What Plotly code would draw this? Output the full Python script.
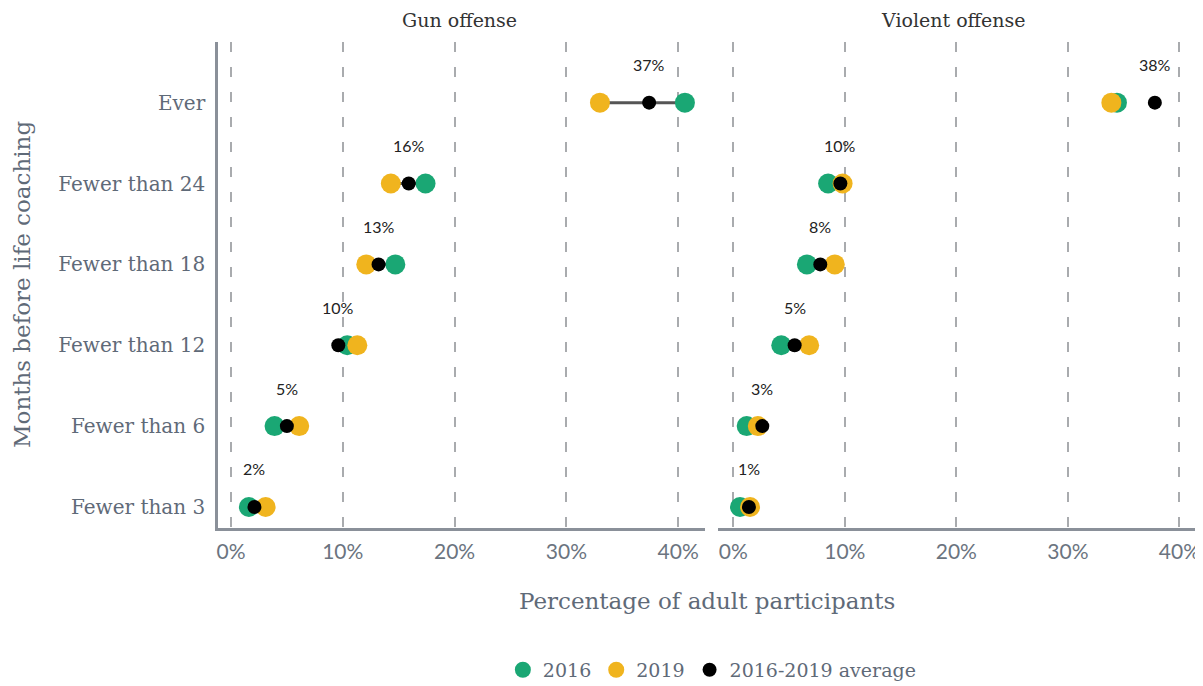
import plotly.graph_objects as go
from plotly.subplots import make_subplots

# categories, bottom to top
months = ["Fewer than 3", "Fewer than 6", "Fewer than 12", "Fewer than 18", "Fewer than 24", "Ever"]

# gun offense (% of adult participants)
gun_2016 = [1.6, 3.9, 10.4, 14.7, 17.4, 40.6]
gun_2019 = [3.1, 6.1, 11.3, 12.1, 14.3, 33.0]
gun_avg = [2.1, 5.0, 9.6, 13.2, 15.9, 37.4]
gun_labels = ["2%", "5%", "10%", "13%", "16%", "37%"]

# violent offense
vio_2016 = [0.6, 1.2, 4.3, 6.6, 8.5, 34.4]
vio_2019 = [1.5, 2.2, 6.8, 9.1, 9.8, 33.9]
vio_avg = [1.4, 2.6, 5.5, 7.8, 9.6, 37.8]
vio_labels = ["1%", "3%", "5%", "8%", "10%", "38%"]

GREEN = "#1aa774"
YELLOW = "#f0b41e"
BLACK = "#000000"
GREY = "#5f6a78"
SERIF = "DejaVu Serif"
SANS = "Lato"

fig = make_subplots(rows=1, cols=2, shared_yaxes=True, horizontal_spacing=0.013,
                    subplot_titles=["Gun offense", "Violent offense"])

panels = [(gun_2016, gun_2019, gun_avg, gun_labels), (vio_2016, vio_2019, vio_avg, vio_labels)]

for col, (a, b, avg, labels) in enumerate(panels, start=1):
    # connector between 2016 and 2019
    lx, ly = [], []
    for i, m in enumerate(months):
        lx += [a[i], b[i], None]
        ly += [m, m, None]
    fig.add_trace(go.Scatter(x=lx, y=ly, mode="lines", line=dict(color="#555555", width=3),
                             showlegend=False, hoverinfo="skip"), row=1, col=col)
    fig.add_trace(go.Scatter(x=a, y=months, mode="markers", name="2016",
                             marker=dict(color=GREEN, size=20), showlegend=(col == 1)), row=1, col=col)
    fig.add_trace(go.Scatter(x=b, y=months, mode="markers", name="2019",
                             marker=dict(color=YELLOW, size=20), showlegend=(col == 1)), row=1, col=col)
    fig.add_trace(go.Scatter(x=avg, y=months, mode="markers", name="2016-2019 average",
                             marker=dict(color=BLACK, size=14), showlegend=(col == 1)), row=1, col=col)
    for i, m in enumerate(months):
        fig.add_annotation(x=avg[i], y=m, text=labels[i], showarrow=False, yshift=38,
                           font=dict(family=SANS, size=16, color="#222222"),
                           xref="x" if col == 1 else "x2", yref="y" if col == 1 else "y2")

# subplot titles
for ann in fig.layout.annotations[:2]:
    ann.font = dict(family=SERIF, size=19, color="#333333")
    ann.yshift = 9

# page body has an 8px margin, so the figure is sized to fit the window
fig.update_layout(
    width=1195, height=678,
    margin=dict(l=210, r=8, t=34, b=158, autoexpand=False),
    plot_bgcolor="white", paper_bgcolor="white",
    legend=dict(orientation="h", x=0.506, xanchor="center", y=-0.292, yanchor="middle",
                font=dict(family=SERIF, size=19, color=GREY)),
)

fig.update_xaxes(range=[-1.16, 42.4], domain=[0, 0.4985], row=1, col=1)
fig.update_xaxes(range=[-1.37, 41.4], domain=[0.5118, 1], row=1, col=2)
fig.update_xaxes(
    tickvals=[0, 10, 20, 30, 40], ticktext=["0%", "10%", "20%", "30%", "40%"],
    showgrid=True, gridcolor="#a9abae", gridwidth=2, griddash="10px,15px",
    showline=True, linecolor="#8a9099", linewidth=2.5, zeroline=False,
    ticks="", ticklabelstandoff=3, automargin=False,
    tickfont=dict(family=SANS, size=21, color="#6b7480"),
)
fig.update_yaxes(
    categoryorder="array", categoryarray=months, range=[-0.26, 5.75],
    showgrid=False, zeroline=False, automargin=False,
)
fig.update_yaxes(showline=True, linecolor="#8a9099", linewidth=2.5,
                 ticks="outside", ticklen=6, tickcolor="rgba(0,0,0,0)",
                 tickfont=dict(family=SERIF, size=20, color=GREY), row=1, col=1)
fig.update_yaxes(showline=False, showticklabels=False, row=1, col=2)

fig.add_annotation(text="Percentage of adult participants", xref="paper", yref="paper",
                   x=0.5, y=-0.15, showarrow=False, yanchor="middle",
                   font=dict(family=SERIF, size=23, color=GREY))
fig.add_annotation(text="Months before life coaching", xref="paper", yref="paper",
                   x=-0.2006, y=0.5, showarrow=False, textangle=-90, xanchor="center",
                   font=dict(family=SERIF, size=23, color=GREY))

fig.write_html("out.html")
